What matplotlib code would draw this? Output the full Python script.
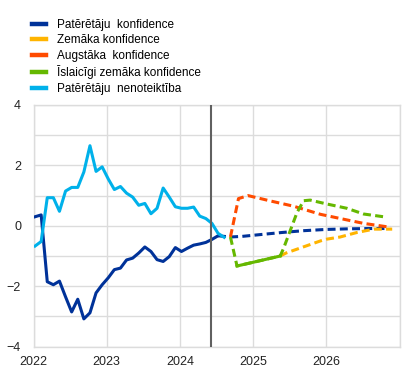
import matplotlib.pyplot as plt
from matplotlib.lines import Line2D
import numpy as np

plt.rcParams['font.family'] = ['Liberation Sans', 'DejaVu Sans']

# monthly history, first point Jan 2022
conf_hist = [0.30, 0.36, -1.85, -1.95, -1.83, -2.35, -2.85, -2.43, -3.08, -2.88,
             -2.22, -1.95, -1.72, -1.45, -1.40, -1.13, -1.07, -0.90, -0.70, -0.85,
             -1.12, -1.18, -1.02, -0.72, -0.85, -0.74, -0.64, -0.60, -0.55, -0.45,
             -0.33]
uncert_hist = [-0.67, -0.52, 0.93, 0.93, 0.48, 1.15, 1.27, 1.27, 1.78, 2.65,
               1.80, 1.95, 1.55, 1.20, 1.30, 1.08, 0.95, 0.68, 0.74, 0.40,
               0.58, 1.25, 0.95, 0.63, 0.58, 0.58, 0.62, 0.32, 0.24, 0.08,
               -0.25, -0.38]

# scenarios (decimal years)
base_x = [2024.52, 2024.69, 2024.85, 2025.10, 2025.40, 2025.70, 2026.00, 2026.30, 2026.60, 2026.83]
base_y = [-0.33, -0.37, -0.35, -0.29, -0.22, -0.16, -0.12, -0.10, -0.09, -0.09]
low_x = [2025.37, 2025.45, 2025.92, 2026.01, 2026.19, 2026.42, 2026.65, 2026.90]
low_y = [-1.00, -0.90, -0.50, -0.44, -0.37, -0.22, -0.11, -0.11]
high_x = [2024.69, 2024.80, 2024.93, 2025.24, 2025.55, 2025.92, 2026.33, 2026.51, 2026.88]
high_y = [-0.37, 0.90, 1.00, 0.82, 0.65, 0.38, 0.17, 0.08, -0.05]
temp_x = [2024.69, 2024.78, 2025.37, 2025.42, 2025.60, 2025.69, 2025.78, 2026.01, 2026.28, 2026.51, 2026.78]
temp_y = [-0.37, -1.33, -1.00, -0.72, 0.44, 0.83, 0.85, 0.72, 0.58, 0.39, 0.30]

labels = ['Patērētāju  konfidence', 'Zemāka konfidence', 'Augstāka  konfidence',
          'Īslaicīgi zemāka konfidence', 'Patērētāju  nenoteiktība']
colors = ['#003299', '#ffb400', '#ff4b00', '#65b800', '#00b1ea']
cut_off = 2024.43

hist_x = 2022 + (np.arange(len(uncert_hist)) + 0.25) / 12

fig = plt.figure(figsize=(4.14, 3.72), dpi=100)
ax = fig.add_axes([0.081, 0.068, 0.884, 0.650])

lw = 2.2
dash = (2.6, 1.4)
ax.plot(base_x, base_y, color=colors[0], lw=lw, dashes=dash, zorder=3)
ax.plot(low_x, low_y, color=colors[1], lw=lw, dashes=dash, zorder=3)
ax.plot(high_x, high_y, color=colors[2], lw=lw, dashes=dash, zorder=4)
ax.plot(temp_x, temp_y, color=colors[3], lw=lw, dashes=dash, zorder=5)
ax.plot(temp_x[1:3], temp_y[1:3], color=colors[3], lw=lw, zorder=5)
ax.plot(hist_x[:len(conf_hist)], conf_hist, color=colors[0], lw=lw, zorder=6)
ax.plot(hist_x, uncert_hist, color=colors[4], lw=lw, zorder=6)
ax.axvline(cut_off, color='#606060', lw=1.5, zorder=7)

ax.set_xlim(2022, 2027)
ax.set_ylim(-4, 4)
ax.set_xticks([2022, 2023, 2024, 2025, 2026, 2027])
ax.set_xticklabels(['2022', '2023', '2024', '2025', '2026', ''])
ax.set_yticks([-4, -2, 0, 2, 4])
ax.set_yticks([-3, -1, 1, 3], minor=True)
ax.grid(True, which='both', color='#dcdcdc', lw=1.0)
ax.set_axisbelow(True)
for s in ax.spines.values():
    s.set_color('#dcdcdc')
    s.set_linewidth(1.0)
ax.tick_params(which='both', length=0, labelsize=9, colors='#222222')
ax.tick_params(axis='y', pad=9)
ax.tick_params(axis='x', pad=7)

handles = [Line2D([], [], color=c, lw=3.2) for c in colors]
fig.legend(handles, labels, loc='upper left', bbox_to_anchor=(0.065, 0.962),
           frameon=False, fontsize=8.5, handlelength=1.25, handletextpad=0.9,
           labelspacing=0.3, borderaxespad=0)

fig.savefig('out.png', dpi=100)
